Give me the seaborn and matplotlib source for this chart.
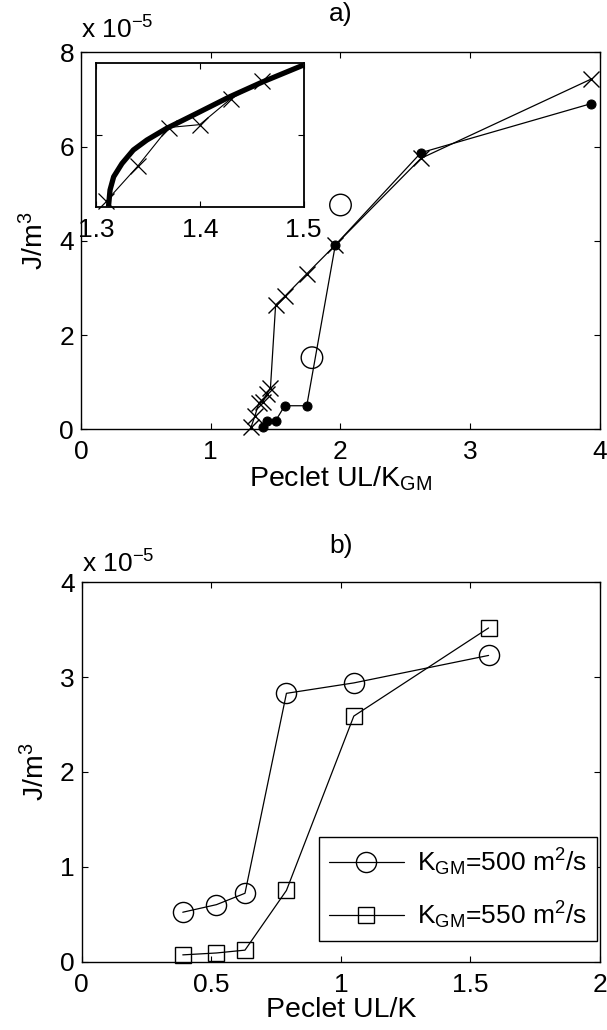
import matplotlib
matplotlib.use('Agg')
import matplotlib.pyplot as plt
import seaborn as sns
import pandas as pd

# ---------------- data, J in units of 1e-5 ----------------
# panel a
cross_x = [1.31, 1.34, 1.37, 1.40, 1.43, 1.46, 1.50, 1.57, 1.74, 1.96, 2.62, 3.93]
cross_y = [0.04, 0.28, 0.55, 0.57, 0.75, 0.87, 2.64, 2.82, 3.30, 3.91, 5.75, 7.43]
dot_x = [1.40, 1.43, 1.50, 1.57, 1.74, 1.96, 2.62, 3.93]
dot_y = [0.04, 0.18, 0.18, 0.50, 0.50, 3.91, 5.87, 6.91]
open_x = [1.78, 2.00]
open_y = [1.52, 4.76]
curve_x = [1.312, 1.3135, 1.317, 1.325, 1.336, 1.349, 1.368, 1.397, 1.429, 1.461, 1.50]
curve_y = [0.0, 0.116, 0.208, 0.30, 0.394, 0.463, 0.544, 0.648, 0.764, 0.868, 0.984]
n_inset = 6  # number of cross points shown in the inset

# panel b
pe_b = [0.39, 0.52, 0.63, 0.79, 1.05, 1.57]
j500 = [0.52, 0.60, 0.72, 2.83, 2.94, 3.23]
j550 = [0.07, 0.09, 0.12, 0.75, 2.59, 3.52]
labels_b = [r'K$_{\rm GM}$=500 m$^2$/s', r'K$_{\rm GM}$=550 m$^2$/s']

a_xticks = [0, 1, 2, 3, 4]
a_yticks = [0, 2, 4, 6, 8]
b_xticks = [0, 0.5, 1, 1.5, 2]
b_xticklabels = ['0', '0.5', '1', '1.5', '2']
b_yticks = [0, 1, 2, 3, 4]
inset_xticks = [1.3, 1.4, 1.5]

FS = 19
FL = 20.5

# ---------------- style ----------------
sns.set_theme(style='white')
plt.rcParams['font.family'] = ['Liberation Sans', 'DejaVu Sans']
plt.rcParams.update({
    'mathtext.fontset': 'custom',
    'mathtext.rm': 'Liberation Sans',
    'mathtext.it': 'Liberation Sans:italic',
    'mathtext.bf': 'Liberation Sans:bold',
    'mathtext.default': 'regular',
    'font.size': FS,
    'axes.edgecolor': 'black',
    'axes.linewidth': 1.0,
    'text.color': 'black',
    'axes.labelcolor': 'black',
    'xtick.color': 'black',
    'ytick.color': 'black',
})

W, H = 607, 1030
fig = plt.figure(figsize=(W / 100, H / 100), dpi=100)
fig.patch.set_facecolor('white')

ax_a = fig.add_axes([0.1334, 0.5832, 0.8551, 0.3660])
ax_b = fig.add_axes([0.1346, 0.0665, 0.8539, 0.3680])
ax_in = fig.add_axes([0.1582, 0.7993, 0.3418, 0.1398])


def style_axes(ax, fs=FS, pad=8):
    for s in ax.spines.values():
        s.set_visible(True)
        s.set_color('black')
        s.set_linewidth(1.0)
    ax.tick_params(direction='in', length=4, width=0.8, top=True, right=True,
                   bottom=True, left=True, labelsize=fs, colors='black')
    ax.tick_params(axis='x', pad=pad)
    ax.tick_params(axis='y', pad=5)
    ax.set_facecolor('white')


lw = 0.9

# ---------------- panel a ----------------
df_cross = pd.DataFrame({'x': cross_x, 'y': cross_y})
df_dot = pd.DataFrame({'x': dot_x, 'y': dot_y})
df_open = pd.DataFrame({'x': open_x, 'y': open_y})

sns.lineplot(data=df_cross, x='x', y='y', ax=ax_a, sort=False, estimator=None,
             color='black', lw=lw, marker='x', markersize=12, mew=1.0,
             mec='black', clip_on=False)
sns.lineplot(data=df_dot, x='x', y='y', ax=ax_a, sort=False, estimator=None,
             color='black', lw=lw, marker='o', markersize=6.5, mec='black',
             mfc='black', clip_on=False)
sns.scatterplot(data=df_open, x='x', y='y', ax=ax_a, marker='o', s=15.5 ** 2,
                facecolor='none', edgecolor='black', linewidth=1.0, clip_on=False)

style_axes(ax_a)
ax_a.set_xlim(0, 4)
ax_a.set_ylim(0, 8)
ax_a.set_xticks(a_xticks)
ax_a.set_yticks(a_yticks)
ax_a.set_xlabel(r'Peclet UL/K$_{\rm GM}$', fontsize=FL, labelpad=0)
ax_a.set_ylabel(r'J/m$^3$', fontsize=FL, labelpad=7)
ax_a.set_title('a)', fontsize=FS, pad=22.5)
ax_a.text(0.0, 1.037, r'x 10$^{-5}$', transform=ax_a.transAxes, ha='left',
          va='baseline', fontsize=FS)

# ---------------- inset ----------------
df_in = pd.DataFrame({'x': cross_x[:n_inset], 'y': cross_y[:n_inset]})
df_curve = pd.DataFrame({'x': curve_x, 'y': curve_y})
sns.lineplot(data=df_curve, x='x', y='y', ax=ax_in, sort=False, estimator=None,
             color='black', lw=3.8, solid_capstyle='butt')
sns.lineplot(data=df_in, x='x', y='y', ax=ax_in, sort=False, estimator=None,
             color='black', lw=0.8, marker='x', markersize=11, mew=0.9,
             mec='black', clip_on=False)
style_axes(ax_in)
for s in ax_in.spines.values():
    s.set_linewidth(1.3)
ax_in.set_xlim(1.3, 1.5)
ax_in.set_ylim(0, 1)
ax_in.set_xticks(inset_xticks)
ax_in.set_xticklabels(['1.3', '1.4', '1.5'])
ax_in.set_yticks([0.5])
ax_in.set_yticklabels([])
ax_in.set_xlabel('')
ax_in.set_ylabel('')

# ---------------- panel b ----------------
df500 = pd.DataFrame({'x': pe_b, 'y': j500})
df550 = pd.DataFrame({'x': pe_b, 'y': j550})
sns.lineplot(data=df500, x='x', y='y', ax=ax_b, sort=False, estimator=None,
             color='black', lw=lw, marker='o', markersize=14.5, mew=1.0,
             mec='black', mfc='none', clip_on=False)
sns.lineplot(data=df550, x='x', y='y', ax=ax_b, sort=False, estimator=None,
             color='black', lw=lw, marker='s', markersize=12, mew=1.0,
             mec='black', mfc='none', clip_on=False)
style_axes(ax_b)
ax_b.set_xlim(0, 2)
ax_b.set_ylim(0, 4)
ax_b.set_xticks(b_xticks)
ax_b.set_xticklabels(b_xticklabels)
ax_b.set_yticks(b_yticks)
ax_b.set_xlabel('Peclet UL/K', fontsize=FL, labelpad=0)
ax_b.set_ylabel(r'J/m$^3$', fontsize=FL, labelpad=7)
ax_b.set_title('b)', fontsize=FS, pad=21)
ax_b.text(0.0, 1.027, r'x 10$^{-5}$', transform=ax_b.transAxes, ha='left',
          va='baseline', fontsize=FS)

handles = ax_b.get_lines()[:2]
leg = ax_b.legend(handles, labels_b, loc='lower right',
                  bbox_to_anchor=(0.994, 0.055), fontsize=FS, handlelength=2.85,
                  numpoints=1, frameon=True, fancybox=False, framealpha=1,
                  edgecolor='black', labelspacing=0.8, borderpad=0.38,
                  handletextpad=0.5, borderaxespad=0.0)
leg.get_frame().set_linewidth(1.0)

fig.savefig('out.png', dpi=100, facecolor='white')
